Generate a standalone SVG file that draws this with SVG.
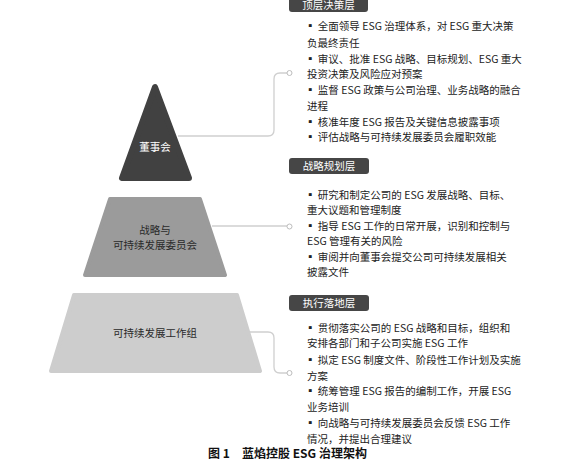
<svg xmlns="http://www.w3.org/2000/svg" width="566" height="469" viewBox="0 0 566 469">
<style>
.t{font-family:"Noto Sans CJK SC","Liberation Sans",sans-serif;font-size:10.5px;fill:#222}
.lab{font-family:"Noto Sans CJK SC","Liberation Sans",sans-serif;font-size:10.5px;text-anchor:middle}
.hd{fill:#464646}
.hdt{font-family:"Noto Sans CJK SC","Liberation Sans",sans-serif;font-size:10.5px;fill:#fff;text-anchor:middle}
.con{fill:none;stroke:#cfcfcf;stroke-width:1.3}
.dot{fill:#fff;stroke:#bdbdbd;stroke-width:1}
.cap{font-family:"Noto Sans CJK SC","Liberation Sans",sans-serif;font-size:12px;fill:#111;font-weight:bold}
</style>
<rect width="566" height="469" fill="#fff"/>
<g id="connectors">
<path class="con" d="M178,136 H268 Q274,136 274,130 V79 Q274,73 280,73 H287"/>
<path class="con" d="M212,226 H287"/>
<path class="con" d="M250,332 H268 Q274,332 274,338 V367 Q274,373 280,373 H287"/>
<circle class="dot" cx="289.5" cy="73" r="2.5"/>
<circle class="dot" cx="289.5" cy="226.5" r="2.5"/>
<circle class="dot" cx="289.5" cy="373" r="2.5"/>
</g>
<g id="board">
<polygon points="155,87 122,178 189,178" fill="#414141" stroke="#414141" stroke-width="6" stroke-linejoin="round"/>
<text class="lab" x="155" y="151" fill="#fff">董事会</text>
</g>
<g id="committee">
<polygon points="110,199 200,199 225,275 85,275" fill="#9b9b9b" stroke="#9b9b9b" stroke-width="4" stroke-linejoin="round"/>
<text class="lab" x="155" y="234" fill="#2a2a2a">战略与</text>
<text class="lab" x="155" y="249" fill="#2a2a2a">可持续发展委员会</text>
</g>
<g id="workgroup">
<polygon points="74,295 237,295 260,371 51,371" fill="#cdcdcd" stroke="#cdcdcd" stroke-width="4" stroke-linejoin="round"/>
<text class="lab" x="155" y="337" fill="#2a2a2a">可持续发展工作组</text>
</g>
<g id="top-layer">
<rect class="hd" x="289" y="-6" width="79" height="18" rx="3"/>
<text class="hdt" x="328.5" y="9">顶层决策层</text>
<text class="t" x="305" y="30">▪ 全面领导 ESG 治理体系，对 ESG 重大决策</text>
<text class="t" x="307" y="47">负最终责任</text>
<text class="t" x="305" y="63">▪ 审议、批准 ESG 战略、目标规划、ESG 重大</text>
<text class="t" x="307" y="78">投资决策及风险应对预案</text>
<text class="t" x="305" y="94">▪ 监督 ESG 政策与公司治理、业务战略的融合</text>
<text class="t" x="307" y="110">进程</text>
<text class="t" x="305" y="126">▪ 核准年度 ESG 报告及关键信息披露事项</text>
<text class="t" x="305" y="141">▪ 评估战略与可持续发展委员会履职效能</text>
</g>
<g id="strategy-layer">
<rect class="hd" x="289" y="158" width="80" height="16" rx="3"/>
<text class="hdt" x="329" y="170">战略规划层</text>
<text class="t" x="305" y="199">▪ 研究和制定公司的 ESG 发展战略、目标、</text>
<text class="t" x="307" y="214">重大议题和管理制度</text>
<text class="t" x="305" y="230">▪ 指导 ESG 工作的日常开展，识别和控制与</text>
<text class="t" x="307" y="245">ESG 管理有关的风险</text>
<text class="t" x="305" y="261">▪ 审阅并向董事会提交公司可持续发展相关</text>
<text class="t" x="307" y="276">披露文件</text>
</g>
<g id="execution-layer">
<rect class="hd" x="289" y="295" width="80" height="16" rx="3"/>
<text class="hdt" x="329" y="307">执行落地层</text>
<text class="t" x="305" y="332">▪ 贯彻落实公司的 ESG 战略和目标，组织和</text>
<text class="t" x="307" y="347">安排各部门和子公司实施 ESG 工作</text>
<text class="t" x="305" y="364">▪ 拟定 ESG 制度文件、阶段性工作计划及实施</text>
<text class="t" x="307" y="380">方案</text>
<text class="t" x="305" y="395">▪ 统筹管理 ESG 报告的编制工作，开展 ESG</text>
<text class="t" x="307" y="411">业务培训</text>
<text class="t" x="305" y="427">▪ 向战略与可持续发展委员会反馈 ESG 工作</text>
<text class="t" x="307" y="443">情况，并提出合理建议</text>
</g>
<g id="caption">
<text class="cap" x="208" y="458">图 1</text>
<text class="cap" x="242" y="458">蓝焰控股 ESG 治理架构</text>
</g>
</svg>
